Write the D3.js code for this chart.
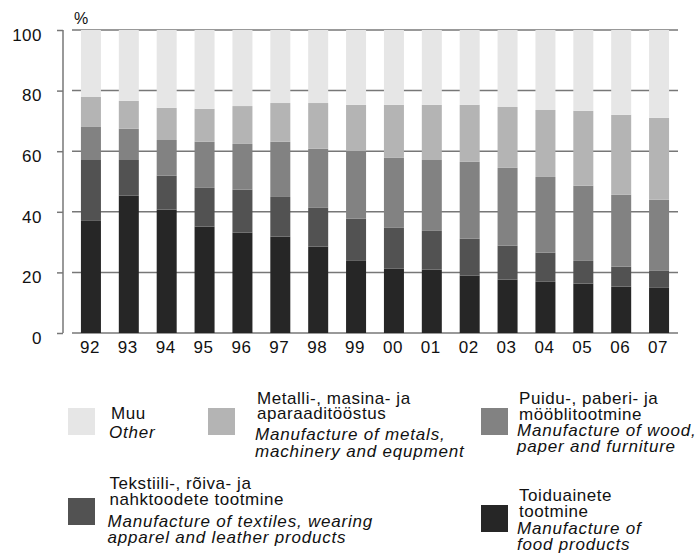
<!DOCTYPE html>
<html>
<head>
<meta charset="utf-8">
<script src="https://cdn.jsdelivr.net/npm/d3@7"></script>
<style>
  html, body { margin: 0; padding: 0; background: #fff; }
  svg { display: block; font-family: "Liberation Sans", Arial, Helvetica, sans-serif; }
</style>
</head>
<body>
<svg id="chart" width="699" height="554"></svg>
<script>
const years = ["92","93","94","95","96","97","98","99","00","01","02","03","04","05","06","07"];
const food     = [37.0,45.3,40.7,35.1,33.1,31.8,28.5,23.8,21.2,20.9,18.9,17.6,16.9,16.3,15.3,14.9];
const textiles = [20.1,11.8,11.2,12.8,14.2,13.1,12.8,13.9,13.5,12.8,12.2,11.2,9.6,7.5,6.6,5.6];
const wood     = [10.9,10.3,11.8,15.2,15.1,18.2,19.5,22.4,23.1,23.4,25.4,25.7,25.0,24.8,23.7,23.5];
const metals   = [9.9,9.2,10.6,10.9,12.5,12.8,15.1,15.2,17.5,18.2,18.8,20.1,22.1,24.7,26.4,27.0];
const other    = [22.1,23.4,25.7,26.0,25.1,24.1,24.1,24.7,24.7,24.7,24.7,25.4,26.4,26.7,28.0,29.0];
const yTicks = [0,20,40,60,80,100];
const seriesKeys = ["food","textiles","wood","metals","other"];
const seriesColors = ["#262626","#525252","#828282","#b4b4b4","#e6e6e6"];

const rows = years.map((y,i) => ({year:y, food:food[i], textiles:textiles[i], wood:wood[i], metals:metals[i], other:other[i]}));

const svg = d3.select("#chart");
const x = d3.scaleBand().domain(years).range([72, 678]).paddingInner(0.472).paddingOuter(0.236);
const y = d3.scaleLinear().domain([0,100]).range([333, 30]);
const color = d3.scaleOrdinal().domain(seriesKeys).range(seriesColors);

// gridlines
svg.append("g").selectAll("line").data(yTicks).join("line")
  .attr("x1", 72).attr("x2", 678)
  .attr("y1", d => y(d)).attr("y2", d => y(d))
  .attr("stroke", "#777").attr("stroke-width", 1.5);

// bars
const stacked = d3.stack().keys(seriesKeys)(rows);
svg.append("g").selectAll("g").data(stacked).join("g")
  .attr("fill", d => color(d.key))
  .selectAll("rect").data(d => d).join("rect")
  .attr("x", d => x(d.data.year))
  .attr("width", x.bandwidth())
  .attr("y", d => y(d[1]))
  .attr("height", d => y(d[0]) - y(d[1]));

// y axis
const yAxis = svg.append("g").attr("transform", "translate(63,0)")
  .call(d3.axisLeft(y).tickValues(yTicks).tickSize(6).tickPadding(15).tickFormat(d3.format("d")));
yAxis.select(".domain").attr("d", `M0,${y(100)}V${y(0)}`).attr("stroke", "#777").attr("stroke-width", 1.5);
yAxis.selectAll(".tick line").attr("stroke", "#777").attr("stroke-width", 1.5);
yAxis.selectAll(".tick text").attr("font-size", 17).attr("fill", "#111").attr("letter-spacing", 0.5)
  .attr("font-family", "Liberation Sans, Arial, sans-serif").attr("dy", "0.6em");

// x axis
const xAxis = svg.append("g").attr("transform", "translate(-1,333)")
  .call(d3.axisBottom(x).tickSize(0).tickPadding(8));
xAxis.select(".domain").remove();
xAxis.selectAll(".tick text").attr("font-size", 17).attr("fill", "#111").attr("letter-spacing", 0.5)
  .attr("font-family", "Liberation Sans, Arial, sans-serif").attr("dy", "0.71em");

// percent sign
svg.append("text").attr("x", 74).attr("y", 24).attr("font-size", 16).attr("fill", "#111").text("%");

// legend
const legend = [
  {key:"other", sx:68, sy:408, tx:111, lines:[["Muu",418.5,false],["Other",437.5,true]]},
  {key:"metals", sx:208, sy:408, tx:257, lines:[["Metalli-, masina- ja",403.5,false],["aparaaditööstus",419,false],["Manufacture of metals,",440,true],["machinery and equpment",456.5,true]]},
  {key:"wood", sx:481, sy:408, tx:519, lines:[["Puidu-, paberi- ja",403.5,false],["mööblitootmine",419.5,false],["Manufacture of wood,",436,true],["paper and furniture",452,true]]},
  {key:"textiles", sx:68, sy:498, tx:109.5, lines:[["Tekstiili-, rõiva- ja",489,false],["nahktoodete tootmine",505,false],["Manufacture of textiles, wearing",526.5,true],["apparel and leather products",542.5,true]]},
  {key:"food", sx:481, sy:505, tx:519, lines:[["Toiduainete",500.5,false],["tootmine",516.5,false],["Manufacture of",534,true],["food products",550,true]]}
];
const lg = svg.append("g");
legend.forEach(l => {
  lg.append("rect").attr("x", l.sx).attr("y", l.sy).attr("width", 27).attr("height", 27).attr("fill", color(l.key));
  l.lines.forEach(([t, by, it]) => {
    lg.append("text").attr("x", it ? l.tx - 2 : l.tx).attr("y", by)
      .attr("font-size", 17).attr("fill", "#111")
      .attr("letter-spacing", it ? 0.8 : 0.55)
      .attr("font-style", it ? "italic" : "normal").text(t);
  });
});
</script>
</body>
</html>
